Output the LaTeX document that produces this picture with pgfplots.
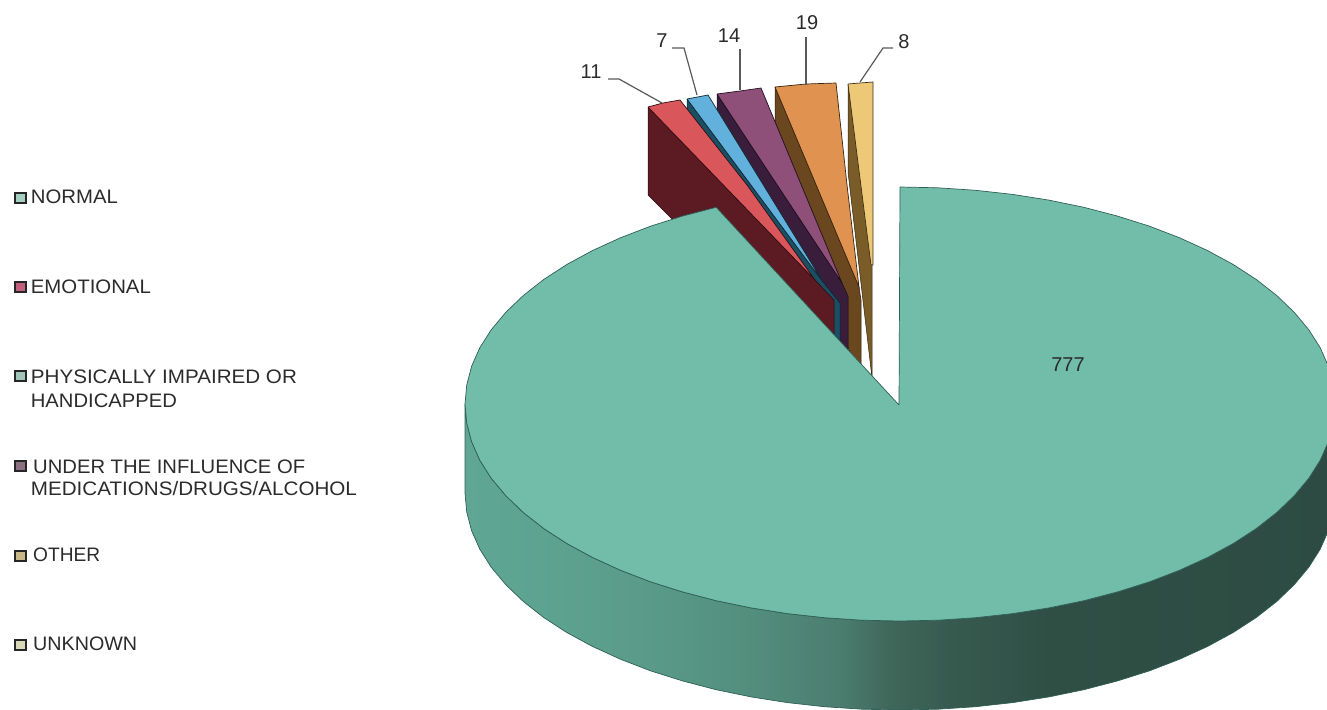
\documentclass[border=0pt]{standalone}
\usepackage{fontspec}
\setmainfont{Liberation Sans}
\usepackage{graphicx}
\usepackage{pgfplots}
\pgfplotsset{compat=1.18}
\definecolor{mainTop}{HTML}{72BDA9}
\definecolor{mainLine}{HTML}{2F5F55}
\definecolor{redT}{HTML}{D9575B}
\definecolor{redW}{HTML}{5C1A22}
\definecolor{bluT}{HTML}{62B0DC}
\definecolor{bluW}{HTML}{1B4F63}
\definecolor{purT}{HTML}{8E4F78}
\definecolor{purW}{HTML}{3A1D3A}
\definecolor{oraT}{HTML}{E09350}
\definecolor{oraW}{HTML}{6B4720}
\definecolor{yelT}{HTML}{ECC877}
\definecolor{yelW}{HTML}{7A5C28}
\definecolor{txt}{HTML}{2B2B2B}
\definecolor{sa}{HTML}{5FA694}
\definecolor{sb}{HTML}{5CA28F}
\definecolor{sc}{HTML}{5A9A88}
\definecolor{sd}{HTML}{538E7D}
\definecolor{se}{HTML}{4B7D6F}
\definecolor{sf}{HTML}{3F675A}
\definecolor{sg}{HTML}{375A4F}
\definecolor{sh}{HTML}{2F4F45}
\definecolor{si}{HTML}{2D4B42}
\pgfdeclarehorizontalshading{pieside}{100bp}{color(0bp)=(sa); color(25bp)=(sa); color(30.46bp)=(sb); color(35.6bp)=(sc); color(41.4bp)=(sd); color(46.6bp)=(se); color(49.4bp)=(sf); color(52.9bp)=(sg); color(58.6bp)=(sh); color(75bp)=(si); color(100bp)=(si)}
\newcommand{\leg}[4]{\node[anchor=base west,inner sep=0pt,text=txt,font=\fontsize{19.5}{22}\selectfont] at (axis cs:#1,#2) {\resizebox{#3pt}{\height}{#4}};}
\newcommand{\val}[3]{\node[inner sep=0pt,text=txt,font=\fontsize{20}{22}\selectfont] at (axis cs:#1,#2) {#3};}
\begin{document}
\begin{tikzpicture}
\useasboundingbox (0,0) rectangle (1327pt,709pt);
\begin{axis}[at={(0,0)},anchor=south west,scale only axis,width=1327pt,height=709pt,
  xmin=0,xmax=1327,ymin=0,ymax=709,y dir=reverse,hide axis,clip=true,clip mode=individual]
% side of the large slice
\addplot[no marks,shading=pieside,draw=mainLine,line width=0.7pt] coordinates {
(465,404)(466.7,422.9)(471.6,441.7)(479.8,460.2)(491.2,478.2)(505.8,495.7)(523.3,512.5)(543.7,528.5)(566.8,543.5)(592.4,557.4)(620.4,570.2)(650.5,581.8)(682.5,591.9)(716.2,600.7)(751.2,607.9)(787.4,613.6)(824.5,617.7)(862.1,620.2)(900,621)(937.9,620.2)(975.5,617.7)(1012.6,613.6)(1048.8,607.9)(1083.8,600.7)(1117.5,591.9)(1149.5,581.8)(1179.6,570.2)(1207.6,557.4)(1233.2,543.5)(1256.3,528.5)(1276.7,512.5)(1294.2,495.7)(1308.8,478.2)(1320.2,460.2)(1328.4,441.7)(1333.3,422.9)(1335,404)
(1335,493)(1333.3,511.9)(1328.4,530.7)(1320.2,549.2)(1308.8,567.2)(1294.2,584.7)(1276.7,601.5)(1256.3,617.5)(1233.2,632.5)(1207.6,646.4)(1179.6,659.2)(1149.5,670.8)(1117.5,680.9)(1083.8,689.7)(1048.8,696.9)(1012.6,702.6)(975.5,706.7)(937.9,709.2)(900,710)(862.1,709.2)(824.5,706.7)(787.4,702.6)(751.2,696.9)(716.2,689.7)(682.5,680.9)(650.5,670.8)(620.4,659.2)(592.4,646.4)(566.8,632.5)(543.7,617.5)(523.3,601.5)(505.8,584.7)(491.2,567.2)(479.8,549.2)(471.6,530.7)(466.7,511.9)(465,493)(465,404)};
% UNKNOWN 8
\addplot[no marks,fill=yelW,draw=black!60!yelW,line width=0.5pt] coordinates {(848,84)(872,265)(872,378)(848,172)(848,84)};
\addplot[no marks,fill=yelT,draw=black!50!yelW,line width=0.7pt] coordinates {(848,84)(860,83)(873,82)(873,265)(871,265)(848,84)};
% OTHER 19
\addplot[no marks,fill=oraW,draw=black!60!oraW,line width=0.5pt] coordinates {(775,87)(859,287)(861,300)(861,378)(775,175)(775,87)};
\addplot[no marks,fill=oraT,draw=black!50!oraW,line width=0.7pt] coordinates {(775,87)(806,84)(836,83)(847,185)(859,287)(775,87)};
% UNDER THE INFLUENCE 14
\addplot[no marks,fill=purW,draw=black!60!purW,line width=0.5pt] coordinates {(717,94)(842,283)(848,296)(848,376)(717,182)(717,94)};
\addplot[no marks,fill=purT,draw=black!50!purW,line width=0.7pt] coordinates {(717,94)(740,91)(761,88)(842,283)(717,94)};
% PHYSICALLY IMPAIRED 7
\addplot[no marks,fill=bluW,draw=black!60!bluW,line width=0.5pt] coordinates {(687,99)(823,282)(840,303)(840,370)(687,187)(687,99)};
\addplot[no marks,fill=bluT,draw=black!50!bluW,line width=0.7pt] coordinates {(687,99)(708,95)(823,282)(687,99)};
% EMOTIONAL 11
\addplot[no marks,fill=redW,draw=black!60!redW,line width=0.5pt] coordinates {(648,107)(815,280)(834,300)(834,365)(670,217)(648,195)(648,107)};
\addplot[no marks,fill=redT,draw=black!50!redW,line width=0.7pt] coordinates {(648,107)(663,103)(680,100)(747,185)(815,280)(648,107)};
% NORMAL 777, top
\addplot[no marks,fill=mainTop,draw=mainLine,line width=0.7pt] coordinates {
(899,405)(900,187)(937.9,187.8)(975.5,190.3)(1012.6,194.4)(1048.8,200.1)(1083.8,207.3)(1117.5,216.1)(1149.5,226.2)(1179.6,237.8)(1207.6,250.6)(1233.2,264.5)(1256.3,279.5)(1276.7,295.5)(1294.2,312.3)(1308.8,329.8)(1320.2,347.8)(1328.4,366.3)(1333.3,385.1)(1335,404)(1333.3,422.9)(1328.4,441.7)(1320.2,460.2)(1308.8,478.2)(1294.2,495.7)(1276.7,512.5)(1256.3,528.5)(1233.2,543.5)(1207.6,557.4)(1179.6,570.2)(1149.5,581.8)(1117.5,591.9)(1083.8,600.7)(1048.8,607.9)(1012.6,613.6)(975.5,617.7)(937.9,620.2)(900,621)(862.1,620.2)(824.5,617.7)(787.4,613.6)(751.2,607.9)(716.2,600.7)(682.5,591.9)(650.5,581.8)(620.4,570.2)(592.4,557.4)(566.8,543.5)(543.7,528.5)(523.3,512.5)(505.8,495.7)(491.2,478.2)(479.8,460.2)(471.6,441.7)(466.7,422.9)(465,404)(466.7,385.1)(471.6,366.3)(479.8,347.8)(491.2,329.8)(505.8,312.3)(523.3,295.5)(543.7,279.5)(566.8,264.5)(592.4,250.6)(620.4,237.8)(650.5,226.2)(682.5,216.1)(716.2,207.3)(899,405)};
% leader lines
\addplot[no marks,draw=black!65,line width=1.2pt] coordinates {(608,79)(619,79)(662,103)};
\addplot[no marks,draw=black!65,line width=1.2pt] coordinates {(672,48)(684,48)(697,95)};
\addplot[no marks,draw=black!65,line width=1.2pt] coordinates {(740,49)(740,90)};
\addplot[no marks,draw=black!65,line width=1.2pt] coordinates {(806,37)(806,85)};
\addplot[no marks,draw=black!65,line width=1.2pt] coordinates {(893,48)(883,48)(860,82)};
% legend keys
\addplot[only marks,mark=square*,mark size=5.3pt,mark options={solid,draw=black!85,fill={rgb,255:red,165;green,207;blue,192},line width=2pt}] coordinates {(20.5,198)};
\addplot[only marks,mark=square*,mark size=5.3pt,mark options={solid,draw=black!85,fill={rgb,255:red,192;green,96;blue,124},line width=2pt}] coordinates {(20.5,287)};
\addplot[only marks,mark=square*,mark size=5.3pt,mark options={solid,draw=black!85,fill={rgb,255:red,160;green,196;blue,184},line width=2pt}] coordinates {(20.5,376)};
\addplot[only marks,mark=square*,mark size=5.3pt,mark options={solid,draw=black!85,fill={rgb,255:red,138;green,112;blue,128},line width=2pt}] coordinates {(20.5,466)};
\addplot[only marks,mark=square*,mark size=5.3pt,mark options={solid,draw=black!85,fill={rgb,255:red,200;green,184;blue,136},line width=2pt}] coordinates {(20.5,556)};
\addplot[only marks,mark=square*,mark size=5.3pt,mark options={solid,draw=black!85,fill={rgb,255:red,216;green,216;blue,184},line width=2pt}] coordinates {(20.5,645)};
% texts
\leg{30.7}{203}{87}{NORMAL}
\leg{30.7}{293}{120}{EMOTIONAL}
\leg{30.7}{383}{266}{PHYSICALLY IMPAIRED OR}
\leg{30.7}{407}{146}{HANDICAPPED}
\leg{33}{473}{272}{UNDER THE INFLUENCE OF}
\leg{30.7}{495}{326}{MEDICATIONS/DRUGS/ALCOHOL}
\leg{33}{561}{67}{OTHER}
\leg{33}{650}{104}{UNKNOWN}
\val{591}{72}{11}
\val{662}{41}{7}
\val{729}{36}{14}
\val{807}{23}{19}
\val{904}{42}{8}
\val{1068}{365}{777}
\end{axis}
\end{tikzpicture}
\end{document}
